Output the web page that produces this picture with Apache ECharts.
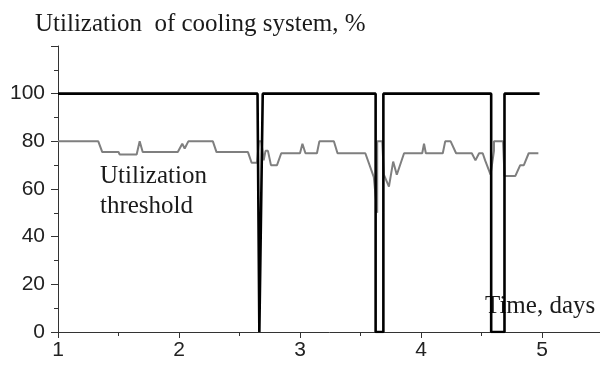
<!DOCTYPE html>
<html><head><meta charset="utf-8">
<script src="https://cdn.jsdelivr.net/npm/echarts@6/dist/echarts.min.js"></script>
<style>html,body{margin:0;padding:0;background:#fff}#c{width:600px;height:370px}</style>
</head><body><div id="c"></div>
<script>
// Cooling system utilization (black line), %
const coolingX = [1, 2.649, 2.664, 2.68, 2.692, 3.625, 3.625, 3.689, 3.689, 4.58, 4.58, 4.69, 4.69, 4.98];
const coolingY = [100, 100, 0, 0, 100, 100, 0, 0, 100, 100, 0, 0, 100, 100];
// Utilization threshold (gray line), %
const thresholdX = [1, 1.333, 1.366, 1.50, 1.51, 1.65, 1.675, 1.70, 1.99, 2.027, 2.047, 2.077, 2.28, 2.31, 2.57, 2.60, 2.645, 2.66, 2.68, 2.70, 2.715, 2.735, 2.76, 2.81, 2.845, 3.00, 3.02, 3.045, 3.14, 3.16, 3.28, 3.31, 3.54, 3.61, 3.638, 3.638, 3.68, 3.693, 3.735, 3.77, 3.80, 3.86, 4.01, 4.025, 4.04, 4.18, 4.20, 4.245, 4.29, 4.42, 4.45, 4.48, 4.51, 4.53, 4.575, 4.603, 4.603, 4.678, 4.69, 4.78, 4.82, 4.85, 4.89, 4.97];
const thresholdY = [80, 80, 75.5, 75.5, 74.5, 74.5, 80, 75.5, 75.5, 79, 77, 80, 80, 75.5, 75.5, 71, 71, 80, 80, 72, 76, 76, 70, 70, 75, 75, 79, 75, 75, 80, 80, 75, 75, 65, 50, 80, 80, 66, 61, 71.5, 66, 75, 75, 79, 75, 75, 80, 80, 75, 75, 72, 75, 75, 72, 66, 76, 80, 80, 65.5, 65.5, 70, 70, 75, 75];
const xTickLabels = ['1', '2', '3', '4', '5'];
const yTickLabels = ['0', '20', '40', '60', '80', '100'];
const titleText = 'Utilization  of cooling system, %';
const seriesLabel = ['Utilization', 'threshold'];
const xAxisTitle = 'Time, days';

const cooling = coolingX.map((x, i) => [x, coolingY[i]]);
const threshold = thresholdX.map((x, i) => [x, thresholdY[i]]);

const serif = 'Liberation Serif';
const textCol = '#1a1a1a';
const chart = echarts.init(document.getElementById('c'), null, {renderer: 'canvas'});
chart.setOption({
  animation: false,
  backgroundColor: '#fff',
  grid: {left: 58, width: 605, top: 46, bottom: 38, containLabel: false, outerBoundsMode: 'none'},
  xAxis: {
    type: 'value', min: 1, max: 6, interval: 1,
    axisLine: {show: true, lineStyle: {color: '#333', width: 1}},
    axisTick: {show: true, length: 6, inside: false, lineStyle: {color: '#333'}},
    minorTick: {show: true, splitNumber: 2, length: 4, lineStyle: {color: '#333'}},
    splitLine: {show: false},
    axisLabel: {
      margin: 8, color: '#222', fontFamily: 'Liberation Sans', fontSize: 21,
      formatter: v => { const s = String(v); return xTickLabels.indexOf(s) >= 0 ? s : ''; }
    }
  },
  yAxis: {
    type: 'value', min: 0, max: 120, interval: 20,
    axisLine: {show: true, lineStyle: {color: '#333', width: 1}},
    axisTick: {show: true, length: 7, inside: false, lineStyle: {color: '#333'}},
    minorTick: {show: true, splitNumber: 2, length: 4, lineStyle: {color: '#333'}},
    splitLine: {show: false},
    axisLabel: {
      margin: 13, color: '#222', fontFamily: 'Liberation Sans', fontSize: 21,
      formatter: v => { const s = String(v); return yTickLabels.indexOf(s) >= 0 ? s : ''; }
    }
  },
  series: [
    {type: 'line', data: threshold, symbol: 'none', z: 2,
     lineStyle: {color: '#7f7f7f', width: 2}},
    {type: 'line', data: cooling, symbol: 'none', z: 3,
     lineStyle: {color: '#000', width: 2.6}}
  ],
  graphic: [
    {type: 'text', left: 35, top: 12, style: {text: titleText, fontFamily: serif, fontSize: 25, fill: textCol}},
    {type: 'text', left: 100, top: 164, style: {text: seriesLabel[0], fontFamily: serif, fontSize: 25, fill: textCol}},
    {type: 'text', left: 100, top: 194, style: {text: seriesLabel[1], fontFamily: serif, fontSize: 25, fill: textCol}},
    {type: 'text', left: 485, top: 294, style: {text: xAxisTitle, fontFamily: serif, fontSize: 25, fill: textCol}}
  ]
});
</script>
</body></html>
